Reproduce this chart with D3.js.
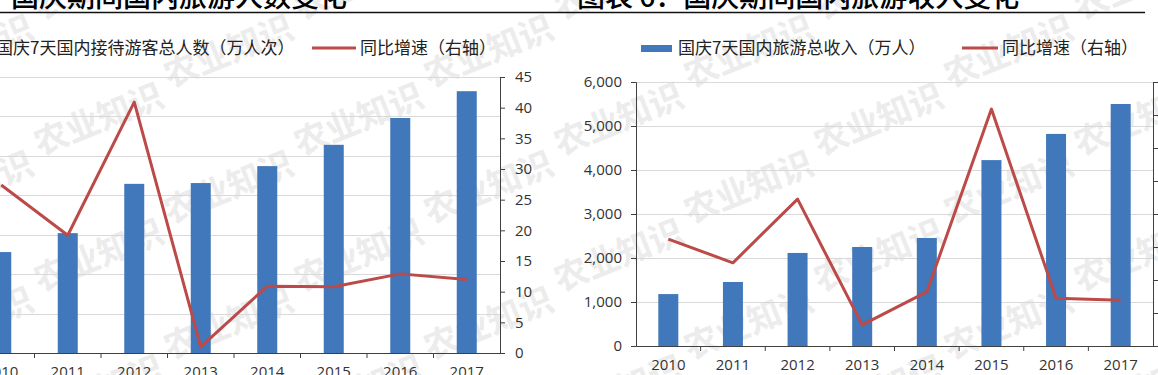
<!DOCTYPE html>
<html>
<head>
<meta charset="utf-8">
<script src="https://cdn.jsdelivr.net/npm/d3@7/dist/d3.min.js"></script>
<style>
  body { margin: 0; background: #fff; }
  svg { display: block; }
  .num { font-family: "Open Sans", "DejaVu Sans", sans-serif; font-size: 15px; fill: #333; }
  .cjk { font-family: "Noto Sans CJK SC", sans-serif; }
</style>
</head>
<body>
<svg width="1158" height="375"></svg>
<script>
// data
var years = ["2010", "2011", "2012", "2013", "2014", "2015", "2016", "2017"];
var visitors = [25600, 30400, 42900, 43100, 47400, 52800, 59600, 66400];   // 万人次
var visitorGrowth = [27.4, 19.2, 40.9, 1.0, 10.9, 10.8, 12.9, 12.0];       // %
var revenue = [1180, 1455, 2115, 2250, 2455, 4225, 4820, 5500];            // 左轴
var revenueGrowth = [32.4, 25.2, 44.5, 6.4, 16.4, 71.8, 14.5, 13.9];       // 右轴 %

var leftTitle = "图表 5：国庆期间国内旅游人数变化";
var rightTitle = "图表 6：国庆期间国内旅游收入变化";
var leftBarName = "国庆7天国内接待游客总人数（万人次）";
var rightBarName = "国庆7天国内旅游总收入（万人）";
var lineName = "同比增速（右轴）";

var barColor = "#4177bb", lineColor = "#bb4a48", gridColor = "#d9d9d9", axisColor = "#404040";

var svg = d3.select("svg");

// watermark
var wm = svg.append("g").attr("class", "cjk")
    .style("font-size", "34px").style("font-weight", "bold").attr("fill", "#ececec");
for (var r = 0; r < 7; r++) {
  for (var c = -1; c < 6; c++) {
    var wx = c * 260 + (r % 2) * 130 + 40, wy = r * 68 + 20;
    wm.append("text")
      .attr("transform", "translate(" + wx + "," + wy + ") rotate(-22)")
      .text("农业知识");
  }
}

// titles + rule
svg.append("line").attr("x1", 0).attr("x2", 1145).attr("y1", 12.5).attr("y2", 12.5)
    .attr("stroke", "#111").attr("stroke-width", 1.5);
svg.append("text").attr("class", "cjk").attr("x", 347).attr("y", 7)
    .attr("text-anchor", "end").style("font-size", "28px").style("font-weight", 500)
    .text(leftTitle);
svg.append("text").attr("class", "cjk").attr("x", 577).attr("y", 7)
    .style("font-size", "28px").style("font-weight", 500)
    .text(rightTitle);

var drawChart = function (opt) {
  var g = svg.append("g");
  var x = d3.scaleBand().domain(years).range([opt.x0, opt.x1]);
  var yL = d3.scaleLinear().domain([0, opt.leftMax]).range([opt.yBottom, opt.yTop]);
  var yR = d3.scaleLinear().domain([0, opt.rightMax]).range([opt.yBottom, opt.yTop]);
  var barW = 20;

  // grid
  g.selectAll(".grid").data(yL.ticks(opt.leftTicks).slice(1))
    .enter().append("line")
      .attr("x1", opt.x0).attr("x2", opt.x1)
      .attr("y1", function (d) { return Math.round(yL(d)) + 0.5; })
      .attr("y2", function (d) { return Math.round(yL(d)) + 0.5; })
      .attr("stroke", gridColor);

  // bars
  g.selectAll(".bar").data(opt.bars)
    .enter().append("rect")
      .attr("x", function (d, i) { return x(years[i]) + (x.bandwidth() - barW) / 2; })
      .attr("y", function (d) { return yL(d); })
      .attr("width", barW)
      .attr("height", function (d) { return opt.yBottom - yL(d); })
      .attr("fill", barColor);

  // line
  var line = d3.line()
      .x(function (d, i) { return x(years[i]) + x.bandwidth() / 2; })
      .y(function (d) { return yR(d); });
  g.append("path").datum(opt.line)
      .attr("d", line).attr("fill", "none")
      .attr("stroke", lineColor).attr("stroke-width", 3).attr("stroke-linejoin", "round");

  // x axis
  var xa = g.append("g").attr("class", "num")
      .attr("transform", "translate(0," + opt.yBottom + ")")
      .call(d3.axisBottom(x).tickSize(0).tickPadding(13));
  xa.select(".domain").attr("stroke", axisColor);
  xa.selectAll("text").attr("class", "num").attr("fill", "#333").style("font-size", "15px");
  xa.selectAll(".bnd").data(years.slice(1))
    .enter().append("line")
      .attr("x1", function (d) { return x(d); }).attr("x2", function (d) { return x(d); })
      .attr("y1", 0).attr("y2", 5).attr("stroke", axisColor);

  // left axis
  if (opt.showLeft) {
    var la = g.append("g")
        .attr("transform", "translate(" + opt.x0 + ",0)")
        .call(d3.axisLeft(yL).ticks(opt.leftTicks).tickSize(5).tickPadding(9).tickFormat(d3.format(",")));
    la.select(".domain").attr("stroke", axisColor);
    la.selectAll("line").attr("stroke", axisColor);
    la.selectAll("text").attr("class", "num").attr("fill", "#333").style("font-size", "15px");
  }

  // right axis
  var ra = g.append("g")
      .attr("transform", "translate(" + opt.x1 + ",0)")
      .call(d3.axisRight(yR).ticks(opt.rightTicks).tickSize(5).tickPadding(10)
        .tickFormat(opt.showRightLabels ? d3.format("d") : function () { return ""; }));
  ra.select(".domain").attr("stroke", axisColor);
  ra.selectAll("line").attr("stroke", axisColor);
  ra.selectAll("text").attr("class", "num").attr("fill", "#333").style("font-size", "15px");

  // legend
  var lg = g.append("g").attr("class", "cjk").style("font-size", "17px").attr("fill", "#222");
  lg.append("rect").attr("x", opt.legX - 37).attr("y", 45).attr("width", 31).attr("height", 7).attr("fill", barColor);
  lg.append("text").attr("x", opt.legX).attr("y", 54).text(opt.barName);
  lg.append("line").attr("x1", opt.lineX).attr("x2", opt.lineX + opt.lineLen)
      .attr("y1", 48).attr("y2", 48).attr("stroke", lineColor).attr("stroke-width", 3);
  lg.append("text").attr("x", opt.lineX + opt.lineLen + 4).attr("y", 54).text(lineName);
};

drawChart({
  x0: -32, x1: 500, yTop: 77, yBottom: 353,
  leftMax: 70000, leftTicks: 7, rightMax: 45, rightTicks: 9,
  bars: visitors, line: visitorGrowth,
  showLeft: false, showRightLabels: true,
  barName: leftBarName, legX: -4, lineX: 312, lineLen: 44
});

drawChart({
  x0: 636, x1: 1153, yTop: 82, yBottom: 346,
  leftMax: 6000, leftTicks: 6, rightMax: 80, rightTicks: 8,
  bars: revenue, line: revenueGrowth,
  showLeft: true, showRightLabels: false,
  barName: rightBarName, legX: 678, lineX: 962, lineLen: 36
});
</script>
</body>
</html>
